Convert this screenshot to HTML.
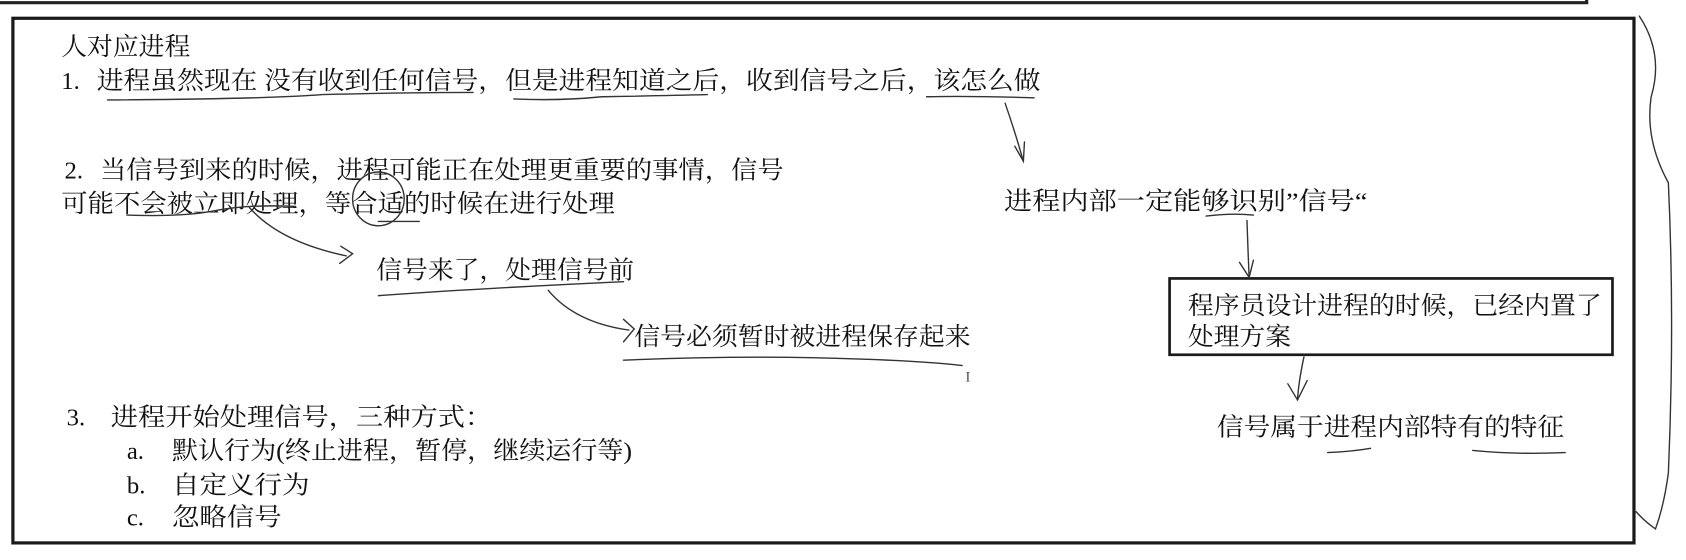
<!DOCTYPE html>
<html><head><meta charset="utf-8"><style>
html,body{margin:0;padding:0;background:#fff;}
svg{display:block;}
text{font-family:"Liberation Serif","Noto Serif CJK SC","Noto Sans CJK SC",serif;font-size:23px;fill:#111;}
</style></head><body>
<svg width="1686" height="560" viewBox="0 0 1568.4 520.9" preserveAspectRatio="none" xmlns="http://www.w3.org/2000/svg">
<rect width="1568.4" height="520.9" fill="#fff"/>
<path d="M0 2.5 H1476 V-5" fill="none" stroke="#222" stroke-width="3"/>
<rect x="12" y="17" width="1508" height="488" fill="none" stroke="#1a1a1a" stroke-width="3"/>
<rect x="1088" y="259" width="412" height="71" fill="none" stroke="#1a1a1a" stroke-width="2.5"/>

<text x="57" y="51" textLength="120" lengthAdjust="spacingAndGlyphs">人对应进程</text>
<text x="57" y="83">1.</text>
<text x="90" y="83" textLength="878" lengthAdjust="spacingAndGlyphs">进程虽然现在 没有收到任何信号，但是进程知道之后，收到信号之后，该怎么做</text>
<text x="60" y="166">2.</text>
<text x="93" y="166" textLength="636" lengthAdjust="spacingAndGlyphs">当信号到来的时候，进程可能正在处理更重要的事情，信号</text>
<text x="57" y="197" textLength="515" lengthAdjust="spacingAndGlyphs">可能不会被立即处理，等合适的时候在进行处理</text>
<text x="934" y="195" textLength="338" lengthAdjust="spacingAndGlyphs">进程内部一定能够识别”信号“</text>
<text x="350" y="259" textLength="240" lengthAdjust="spacingAndGlyphs">信号来了，处理信号前</text>
<text x="590" y="321" textLength="313" lengthAdjust="spacingAndGlyphs">信号必须暂时被进程保存起来</text>
<text x="1105" y="292" textLength="385" lengthAdjust="spacingAndGlyphs">程序员设计进程的时候，已经内置了</text>
<text x="1105" y="321" textLength="96" lengthAdjust="spacingAndGlyphs">处理方案</text>
<text x="1132" y="405" textLength="323" lengthAdjust="spacingAndGlyphs">信号属于进程内部特有的特征</text>
<text x="62" y="396">3.</text>
<text x="103" y="396" textLength="355" lengthAdjust="spacingAndGlyphs">进程开始处理信号，三种方式：</text>
<text x="118" y="427">a.</text>
<text x="160" y="427" textLength="428" lengthAdjust="spacingAndGlyphs">默认行为(终止进程，暂停，继续运行等)</text>
<text x="118" y="459">b.</text>
<text x="160" y="459" textLength="128" lengthAdjust="spacingAndGlyphs">自定义行为</text>
<text x="118" y="489">c.</text>
<text x="160" y="489" textLength="102" lengthAdjust="spacingAndGlyphs">忽略信号</text>
<text x="898" y="355" style="font-size:14px;fill:#555">I</text>

<g fill="none" stroke="#333" stroke-width="1.3" stroke-linecap="round">
<path d="M100 93 Q250 92 300 88 Q380 86 440 86"/>
<path d="M478 92 Q520 94 560 90 Q620 89 658 88"/>
<path d="M862 90 Q900 89 962 91"/>
<path d="M935 96 Q945 125 952 150"/>
<path d="M944 136 L952 150 L953 132"/>
<path d="M118 200 Q170 202 200 196 Q230 190 275 192"/>
<path d="M232 193 Q260 225 322 238"/>
<path d="M317 229 L328 236 L316 245"/>
<ellipse cx="352" cy="185" rx="24" ry="25"/>
<path d="M352 206 L390 206"/>
<path d="M352 275 Q450 268 580 262"/>
<path d="M510 270 Q535 300 585 307"/>
<path d="M580 297 L590 306 L580 318"/>
<path d="M580 335 Q700 330 800 334 Q860 336 895 340"/>
<path d="M1122 201 Q1145 198 1166 200"/>
<path d="M1160 205 Q1161 235 1162 258"/>
<path d="M1153 244 L1162 258 L1166 242"/>
<path d="M1213 332 Q1208 355 1207 372"/>
<path d="M1198 357 L1207 372 L1216 354"/>
<path d="M1235 421 Q1258 420 1275 417"/>
<path d="M1370 419 Q1410 423 1456 421"/>
<path d="M1525 15 Q1548 50 1536 90 Q1530 130 1552 170 Q1558 300 1552 440 Q1548 470 1540 492 Q1530 485 1522 476"/>
</g>
</svg>
</body></html>
